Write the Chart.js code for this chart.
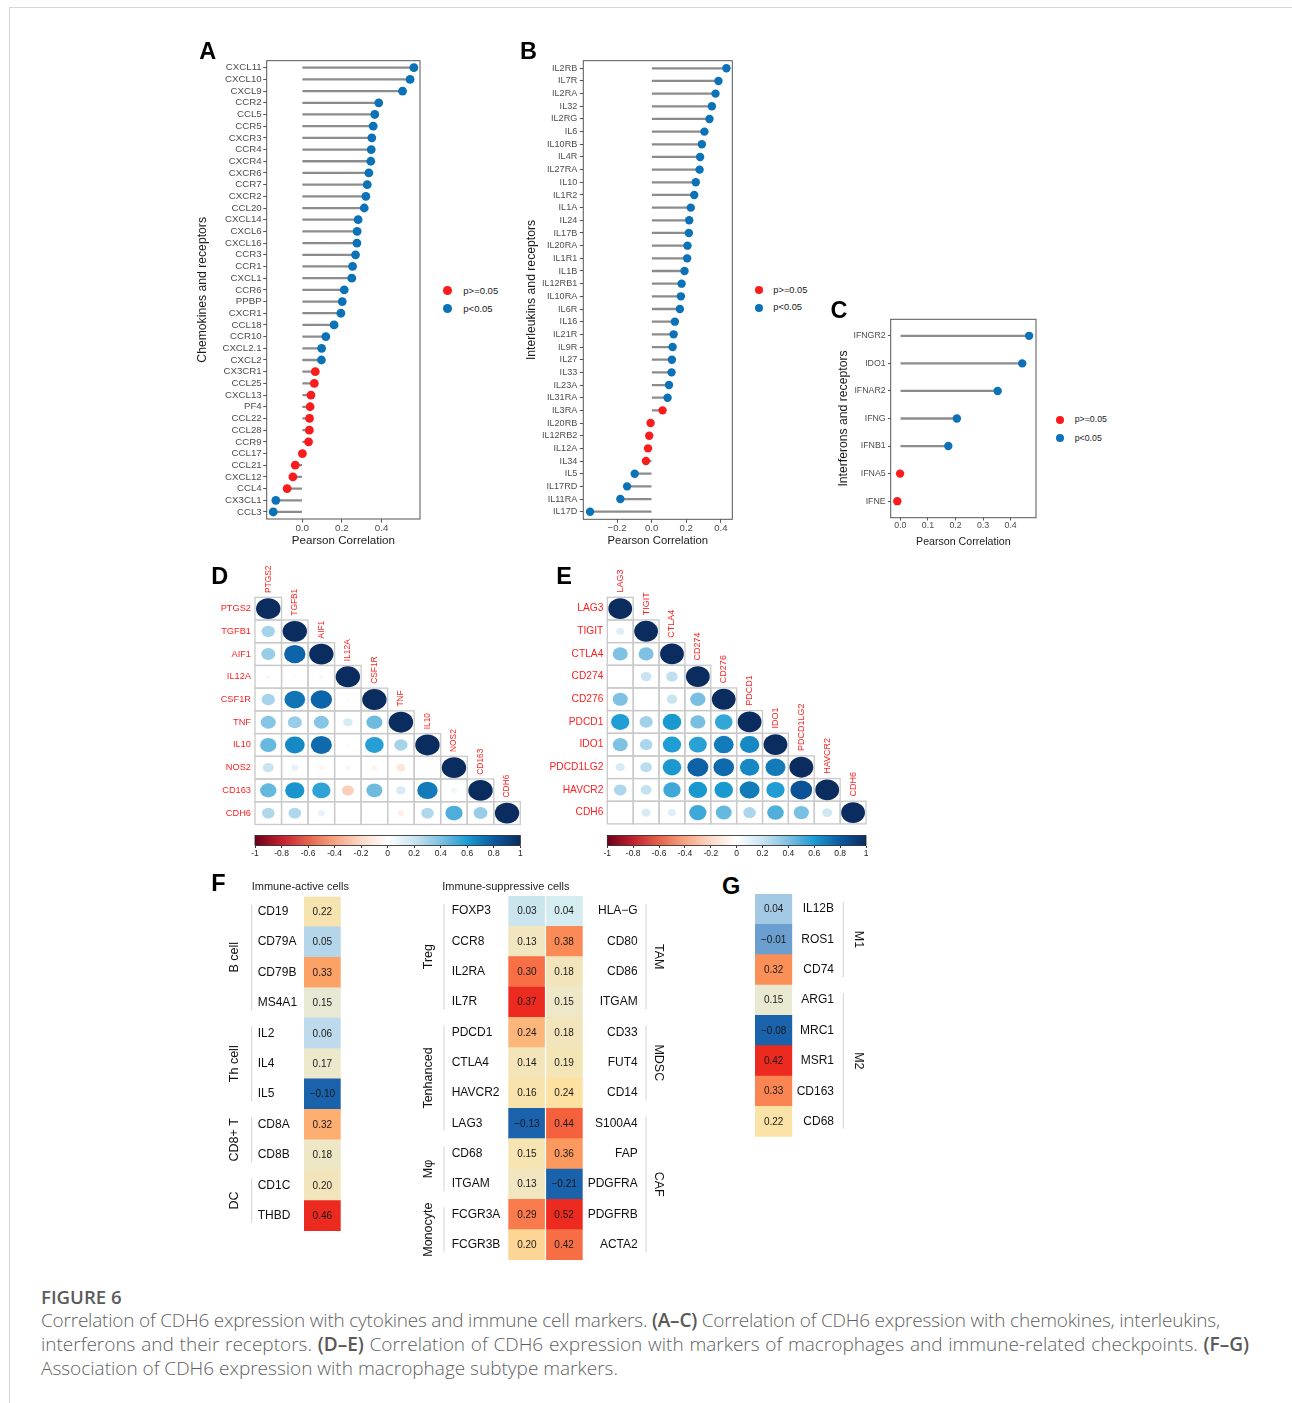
<!DOCTYPE html>
<html>
<head>
<meta charset="utf-8">
<script src="https://cdn.jsdelivr.net/npm/chart.js@4.4.0/dist/chart.umd.min.js"></script>
<style>
  body { margin: 0; background: #fff; width: 1292px; height: 1403px; position: relative; overflow: hidden;
         font-family: "Liberation Sans", Arial, Helvetica, sans-serif; }
  .frame { position: absolute; left: 9px; top: 7px; right: -2px; bottom: -2px;
           border-left: 1px solid #d6d6d6; border-top: 1px solid #d6d6d6; }
  .cap { position: absolute; font-family: "Open Sans", "Noto Sans", sans-serif; font-weight: 300; color: #5f5f5f; white-space: nowrap; }
  .cap b { font-weight: 600; color: #595959; }
</style>
</head>
<body>
<div class="frame"></div>

<script>
// ---------------- data ----------------

// A: chemokines and receptors
const chemoGenes = ["CXCL11","CXCL10","CXCL9","CCR2","CCL5","CCR5","CXCR3","CCR4","CXCR4","CXCR6",
  "CCR7","CXCR2","CCL20","CXCL14","CXCL6","CXCL16","CCR3","CCR1","CXCL1","CCR6","PPBP","CXCR1",
  "CCL18","CCR10","CXCL2.1","CXCL2","CX3CR1","CCL25","CXCL13","PF4","CCL22","CCL28","CCR9",
  "CCL17","CCL21","CXCL12","CCL4","CX3CL1","CCL3"];
const chemoCor = [0.563,0.544,0.506,0.386,0.366,0.358,0.351,0.348,0.346,0.336,
  0.328,0.321,0.313,0.282,0.277,0.276,0.269,0.254,0.250,0.212,0.202,0.195,
  0.161,0.119,0.098,0.097,0.066,0.061,0.044,0.040,0.037,0.036,0.032,
  0.001,-0.035,-0.047,-0.076,-0.133,-0.146];
const chemoSig = [1,1,1,1,1,1,1,1,1,1, 1,1,1,1,1,1,1,1,1,1,1,1, 1,1,1,1,0,0,0,0,0,0,0, 0,0,0,0,1,1];

// B: interleukins and receptors
const ilGenes = ["IL2RB","IL7R","IL2RA","IL32","IL2RG","IL6","IL10RB","IL4R","IL27RA","IL10",
  "IL1R2","IL1A","IL24","IL17B","IL20RA","IL1R1","IL1B","IL12RB1","IL10RA","IL6R","IL16",
  "IL21R","IL9R","IL27","IL33","IL23A","IL31RA","IL3RA","IL20RB","IL12RB2","IL12A","IL34",
  "IL5","IL17RD","IL11RA","IL17D"];
const ilCor = [0.432,0.386,0.369,0.348,0.334,0.305,0.290,0.280,0.277,0.255,
  0.246,0.226,0.217,0.215,0.207,0.205,0.190,0.173,0.169,0.163,0.134,
  0.127,0.121,0.117,0.115,0.100,0.092,0.063,-0.006,-0.014,-0.021,-0.033,
  -0.098,-0.142,-0.181,-0.356];
const ilSig = [1,1,1,1,1,1,1,1,1,1, 1,1,1,1,1,1,1,1,1,1,1, 1,1,1,1,1,1,0,0,0,0,0, 1,1,1,1];

// C: interferons and receptors
const ifnGenes = ["IFNGR2","IDO1","IFNAR2","IFNG","IFNB1","IFNA5","IFNE"];
const ifnCor = [0.467,0.442,0.353,0.205,0.174,-0.001,-0.011];
const ifnSig = [1,1,1,1,1,0,0];

const sigLabels = ["p>=0.05", "p<0.05"];
const ticksA = [0, 0.2, 0.4];
const ticksB = [-0.2, 0, 0.2, 0.4];
const ticksC = [0, 0.1, 0.2, 0.3, 0.4];

// D: macrophage markers (lower triangle, row by row)
const macGenes = ["PTGS2","TGFB1","AIF1","IL12A","CSF1R","TNF","IL10","NOS2","CD163","CDH6"];
const macCorr = [
  [1],
  [0.30, 1],
  [0.33, 0.77, 1],
  [-0.04, 0.02, 0.04, 1],
  [0.30, 0.72, 0.77, 0.03, 1],
  [0.38, 0.33, 0.38, 0.15, 0.43, 1],
  [0.45, 0.66, 0.75, -0.03, 0.58, 0.30, 1],
  [0.20, 0.09, -0.05, 0.05, -0.06, -0.13, 0.00, 1],
  [0.45, 0.62, 0.56, -0.24, 0.43, 0.15, 0.70, 0.06, 1],
  [0.27, 0.27, 0.09, 0.01, 0.00, -0.08, 0.27, 0.50, 0.33, 1]
];

// E: immune checkpoints
const ckGenes = ["LAG3","TIGIT","CTLA4","CD274","CD276","PDCD1","IDO1","PDCD1LG2","HAVCR2","CDH6"];
const ckCorr = [
  [1],
  [0.12, 1],
  [0.40, 0.40, 1],
  [0.01, 0.20, 0.23, 1],
  [0.40, 0.01, 0.20, 0.41, 1],
  [0.59, 0.31, 0.61, 0.41, 0.55, 1],
  [0.40, 0.28, 0.59, 0.57, 0.70, 0.66, 1],
  [0.15, 0.24, 0.61, 0.78, 0.75, 0.66, 0.70, 1],
  [0.28, 0.21, 0.53, 0.61, 0.61, 0.70, 0.59, 0.83, 1],
  [-0.01, 0.15, 0.12, 0.53, 0.45, 0.28, 0.49, 0.41, 0.18, 1]
];
const corrBarTicks = [-1, -0.8, -0.6, -0.4, -0.2, 0, 0.2, 0.4, 0.6, 0.8, 1];

// F: immune-active cells
const activeGenes = ["CD19","CD79A","CD79B","MS4A1","IL2","IL4","IL5","CD8A","CD8B","CD1C","THBD"];
const activeVals = [0.22, 0.05, 0.33, 0.15, 0.06, 0.17, -0.10, 0.32, 0.18, 0.20, 0.46];
const activeGroups = ["B cell", "Th cell", "CD8+ T", "DC"];
const activeSizes = [4, 3, 2, 2];

// F: immune-suppressive cells
const suppGenesL = ["FOXP3","CCR8","IL2RA","IL7R","PDCD1","CTLA4","HAVCR2","LAG3","CD68","ITGAM","FCGR3A","FCGR3B"];
const suppValsL = [0.03, 0.13, 0.30, 0.37, 0.24, 0.14, 0.16, -0.13, 0.15, 0.13, 0.29, 0.20];
const suppGroupsL = ["Treg", "Tenhanced", "Mφ", "Monocyte"];
const suppSizesL = [4, 4, 2, 2];
const suppGenesR = ["HLA−G","CD80","CD86","ITGAM","CD33","FUT4","CD14","S100A4","FAP","PDGFRA","PDGFRB","ACTA2"];
const suppValsR = [0.04, 0.38, 0.18, 0.15, 0.18, 0.19, 0.24, 0.44, 0.36, -0.21, 0.52, 0.42];
const suppGroupsR = ["TAM", "MDSC", "CAF"];
const suppSizesR = [4, 3, 5];

// G: macrophage subtypes
const mGenes = ["IL12B","ROS1","CD74","ARG1","MRC1","MSR1","CD163","CD68"];
const mVals = [0.04, -0.01, 0.32, 0.15, -0.08, 0.42, 0.33, 0.22];
const mGroups = ["M1", "M2"];
const mSizes = [3, 5];

// ---------------- helpers ----------------
const RED = "#f81c1c", BLUE = "#0b72b8", LBL_RED = "#ff2020";
const FONT = '"Liberation Sans", Arial, Helvetica, sans-serif';
Chart.defaults.font.family = FONT;
Chart.defaults.animation = false;
Chart.defaults.events = [];
Chart.defaults.plugins.legend.display = false;
Chart.defaults.plugins.tooltip.enabled = false;

function makeCanvas(l, t, w, h) {
  const c = document.createElement("canvas");
  c.width = w; c.height = h;
  c.style.cssText = `position:absolute;left:${l}px;top:${t}px;width:${w}px;height:${h}px`;
  document.body.appendChild(c);
  return c;
}

// text by baseline (k = ascent offset for line-height = font size)
function txt(x, base, s, size, css, k) {
  const d = document.createElement("div");
  k = k || 0.8465;
  d.style.cssText = `position:absolute;left:${x}px;top:${base - k * size}px;font-size:${size}px;` +
    `line-height:${size}px;white-space:nowrap;` + (css || "");
  d.textContent = s;
  document.body.appendChild(d);
  return d;
}

function dot(cx, cy, col, r) {
  const d = document.createElement("div");
  d.style.cssText = `position:absolute;left:${cx - r}px;top:${cy - r}px;width:${2 * r}px;height:${2 * r}px;` +
    `border-radius:50%;background:${col}`;
  document.body.appendChild(d);
}

function mix(stops, t) {
  t = Math.max(stops[0][0], Math.min(stops[stops.length - 1][0], t));
  for (let i = 1; i < stops.length; i++) {
    if (t <= stops[i][0]) {
      const [t0, c0] = stops[i - 1], [t1, c1] = stops[i];
      const f = (t - t0) / (t1 - t0);
      const a = [1, 3, 5].map(k => parseInt(c0.substr(k, 2), 16));
      const b = [1, 3, 5].map(k => parseInt(c1.substr(k, 2), 16));
      return "rgb(" + a.map((v, k) => Math.round(v + (b[k] - v) * f)).join(",") + ")";
    }
  }
  return stops[stops.length - 1][1];
}

const corrStops = [[-1, "#6b0019"], [-0.8, "#c1202f"], [-0.6, "#e4624c"], [-0.4, "#f6a482"], [-0.2, "#fcd9c7"],
  [0, "#ffffff"], [0.2, "#c9e4f1"], [0.4, "#7ec1e2"], [0.6, "#1b9bd3"], [0.8, "#0b5aa0"], [1, "#0a2c5e"]];
const heatStops = [[0, "#1a62ab"], [0.14, "#6a9fcf"], [0.27, "#b6d6ea"], [0.35, "#d8eef2"], [0.45, "#e8e9d4"],
  [0.52, "#f1e6c0"], [0.62, "#fde19f"], [0.72, "#fdc486"], [0.78, "#fc995e"], [0.87, "#f76a43"], [1, "#ec2a1f"]];

function heatColors(vals) {
  const lo = Math.min(...vals), hi = Math.max(...vals);
  return vals.map(v => mix(heatStops, (v - lo) / (hi - lo)));
}
const minus = s => s.replace("-", "−");

// ---------------- lollipop panels (A, B, C) ----------------
const boxPlugin = {
  id: "box",
  afterDraw(chart) {
    const { ctx, chartArea: a } = chart;
    ctx.save();
    ctx.strokeStyle = "#555";
    ctx.lineWidth = 1;
    ctx.strokeRect(a.left, a.top, a.right - a.left, a.bottom - a.top);
    ctx.restore();
  }
};

function lollipop(c) {
  const axisL = c.yTitleX - 0.6 * c.yTitleSize;
  const axisB = c.xTitleY + 0.6 * c.xTitleSize;
  const L = Math.floor(axisL), T = Math.floor(c.box.t - 10);
  const R = Math.ceil(c.box.r + 10), B = Math.ceil(axisB) + 1;
  const cv = makeCanvas(L, T, R - L, B - T);
  const n = c.labels.length;
  new Chart(cv, {
    type: "bar",
    data: {
      datasets: [
        { type: "bar", indexAxis: "y", order: 2,
          data: c.values.map((v, i) => ({ x: [0, v], y: i })),
          backgroundColor: "#8c8c8c", barThickness: 1.6, borderWidth: 0 },
        { type: "scatter", order: 1, clip: false,
          data: c.values.map((v, i) => ({ x: v, y: i })),
          pointRadius: c.dot, pointBorderWidth: 0,
          pointBackgroundColor: c.sig.map(s => s ? BLUE : RED) }
      ]
    },
    options: {
      responsive: false,
      layout: { padding: { left: axisL - L, top: c.box.t - T, right: R - c.box.r, bottom: B - axisB } },
      scales: {
        x: {
          type: "linear", min: c.xMin, max: c.xMax, bounds: "data", offset: false, beginAtZero: false,
          afterBuildTicks: s => { s.ticks = c.xTicks.map(v => ({ value: v })); },
          afterFit: s => { s.height = axisB - c.box.b; },
          grid: { display: true, offset: false, drawOnChartArea: false, drawTicks: true, tickLength: c.tickLen, color: "#555" },
          border: { display: false },
          ticks: { font: { size: c.xTickSize }, color: "#4d4d4d", maxRotation: 0, autoSkip: false,
                   padding: c.xTickCY - c.box.b - c.tickLen - 0.6 * c.xTickSize,
                   callback: v => minus(v.toFixed(1)) },
          title: { display: true, text: "Pearson Correlation", color: "#1a1a1a", padding: 0,
                   font: { size: c.xTitleSize } }
        },
        y: {
          type: "linear", reverse: true, min: -0.6, max: n - 0.4, bounds: "data", offset: false, beginAtZero: false,
          afterBuildTicks: s => { s.ticks = c.labels.map((_, i) => ({ value: i })); },
          afterFit: s => { s.width = c.box.l - axisL; },
          grid: { display: true, offset: false, drawOnChartArea: false, drawTicks: true, tickLength: c.tickLen, color: "#555" },
          border: { display: false },
          ticks: { font: { size: c.yTickSize }, color: "#4d4d4d", autoSkip: false,
                   padding: c.box.l - c.labelRight - c.tickLen,
                   callback: v => c.labels[v] },
          title: { display: true, text: c.yTitle, color: "#1a1a1a", padding: 0, font: { size: c.yTitleSize } }
        }
      }
    },
    plugins: [boxPlugin]
  });
  // legend
  const ls = c.legSize;
  dot(c.leg.x, c.leg.y1, RED, c.dot);
  dot(c.leg.x, c.leg.y2, BLUE, c.dot);
  txt(c.leg.tx, c.leg.y1 + 0.36 * ls, sigLabels[0], ls, "color:#1a1a1a");
  txt(c.leg.tx, c.leg.y2 + 0.36 * ls, sigLabels[1], ls, "color:#1a1a1a");
}

lollipop({
  labels: chemoGenes, values: chemoCor, sig: chemoSig, yTitle: "Chemokines and receptors",
  box: { l: 266.7, t: 60.7, r: 420, b: 519 }, yTitleX: 202.3, yTitleSize: 12.2,
  xTitleY: 540.7, xTitleSize: 11.6, yTickSize: 9.7, xTickSize: 9.8, labelRight: 261.7, tickLen: 3.5,
  xTickCY: 528.7, xMin: -0.179, xMax: 0.594, xTicks: ticksA, dot: 4.4,
  leg: { x: 447.7, y1: 290.3, y2: 308.3, tx: 463.3 }, legSize: 9.5
});
lollipop({
  labels: ilGenes, values: ilCor, sig: ilSig, yTitle: "Interleukins and receptors",
  box: { l: 583.3, t: 60.7, r: 732.3, b: 519.3 }, yTitleX: 532, yTitleSize: 12.2,
  xTitleY: 540.7, xTitleSize: 11.3, yTickSize: 9.1, xTickSize: 9.6, labelRight: 577.3, tickLen: 3.5,
  xTickCY: 528.7, xMin: -0.395, xMax: 0.466, xTicks: ticksB, dot: 4.2,
  leg: { x: 758.7, y1: 290.3, y2: 307.7, tx: 773.3 }, legSize: 9.3
});
lollipop({
  labels: ifnGenes, values: ifnCor, sig: ifnSig, yTitle: "Interferons and receptors",
  box: { l: 890.7, t: 319.3, r: 1036, b: 517.7 }, yTitleX: 843.3, yTitleSize: 12.2,
  xTitleY: 541.7, xTitleSize: 10.65, yTickSize: 8.8, xTickSize: 8.8, labelRight: 885.7, tickLen: 2.8,
  xTickCY: 525.5, xMin: -0.035, xMax: 0.492, xTicks: ticksC, dot: 4.2,
  leg: { x: 1060, y1: 419.7, y2: 438.3, tx: 1074.7 }, legSize: 8.8
});

// ---------------- correlation matrices (D, E) ----------------
const corrPlugin = {
  id: "corr",
  beforeDatasetsDraw(chart, args, o) {
    const { ctx } = chart, xs = chart.scales.x, ys = chart.scales.y;
    const w = xs.getPixelForValue(1.5) - xs.getPixelForValue(0.5);
    const h = ys.getPixelForValue(1.5) - ys.getPixelForValue(0.5);
    ctx.save();
    ctx.strokeStyle = "#c9c9c9"; ctx.lineWidth = 1.3;
    o.corr.forEach((row, i) => row.forEach((v, j) => {
      ctx.strokeRect(xs.getPixelForValue(j + 0.5), ys.getPixelForValue(i + 0.5), w, h);
    }));
    ctx.restore();
  },
  afterDatasetsDraw(chart, args, o) {
    const { ctx } = chart, xs = chart.scales.x, ys = chart.scales.y;
    const w = xs.getPixelForValue(1.5) - xs.getPixelForValue(0.5);
    const h = ys.getPixelForValue(1.5) - ys.getPixelForValue(0.5);
    const meta = chart.getDatasetMeta(0), raw = chart.data.datasets[0].data;
    ctx.save();
    meta.data.forEach((el, k) => {
      const v = raw[k].v, s = 0.46 * Math.sqrt(Math.abs(v));
      if (s <= 0) return;
      ctx.fillStyle = mix(corrStops, v);
      ctx.beginPath();
      ctx.ellipse(el.x, el.y, s * w, s * h, 0, 0, 2 * Math.PI);
      ctx.fill();
    });
    // column labels along the diagonal
    ctx.fillStyle = LBL_RED;
    ctx.font = `${o.colSize}px ${FONT}`;
    ctx.textAlign = "left"; ctx.textBaseline = "middle";
    o.genes.forEach((g, j) => {
      ctx.save();
      ctx.translate(xs.getPixelForValue(j + 1), ys.getPixelForValue(j + 0.5) - o.colGap);
      ctx.rotate(-Math.PI / 2);
      ctx.fillText(g, 0, 0);
      ctx.restore();
    });
    ctx.restore();
  }
};

const barPlugin = {
  id: "cbar",
  beforeDatasetsDraw(chart) {
    const { ctx, chartArea: a } = chart, xs = chart.scales.x;
    const g = ctx.createLinearGradient(a.left, 0, a.right, 0);
    corrStops.forEach(([v, col]) => g.addColorStop((xs.getPixelForValue(v) - a.left) / (a.right - a.left), col));
    ctx.save();
    ctx.fillStyle = g;
    ctx.fillRect(a.left, a.top, a.right - a.left, a.bottom - a.top);
    ctx.strokeStyle = "#222"; ctx.lineWidth = 0.8;
    ctx.strokeRect(a.left, a.top, a.right - a.left, a.bottom - a.top);
    ctx.restore();
  }
};

function corrplot(c) {
  const n = c.genes.length;
  const g = c.grid;
  const cv = makeCanvas(c.L, c.T, c.R - c.L, c.B - c.T);
  const pts = [];
  c.corr.forEach((row, i) => row.forEach((v, j) => pts.push({ x: j + 1, y: i + 1, v })));
  new Chart(cv, {
    type: "scatter",
    data: { datasets: [{ data: pts, pointRadius: 0 }] },
    options: {
      responsive: false,
      layout: { padding: { left: 0, top: g.t - c.T, right: c.R - g.r, bottom: c.B - g.b } },
      scales: {
        x: { type: "linear", min: 0.5, max: n + 0.5, display: false },
        y: {
          type: "linear", min: 0.5, max: n + 0.5, reverse: true, bounds: "data",
          afterBuildTicks: s => { s.ticks = c.genes.map((_, i) => ({ value: i + 1 })); },
          afterFit: s => { s.width = g.l - c.L; },
          grid: { display: false, drawTicks: false }, border: { display: false },
          ticks: { autoSkip: false, color: LBL_RED, font: { size: c.rowSize }, padding: g.l - c.labelRight,
                   callback: v => c.genes[v - 1] }
        }
      },
      plugins: { corr: { corr: c.corr, genes: c.genes, colSize: c.colSize, colGap: c.colGap } }
    },
    plugins: [corrPlugin]
  });

  // colour bar
  const b = c.bar;
  const BL = Math.floor(b.l - 12), BR = Math.ceil(b.r + 12), BT = Math.floor(b.t - 1), BB = Math.ceil(b.lab + 8);
  const cb = makeCanvas(BL, BT, BR - BL, BB - BT);
  const tl = 2.5, fs = 8.5;
  new Chart(cb, {
    type: "scatter",
    data: { datasets: [{ data: [] }] },
    options: {
      responsive: false,
      layout: { padding: { left: b.l - BL, right: BR - b.r, top: b.t - BT, bottom: 0 } },
      scales: {
        x: {
          type: "linear", min: -1, max: 1, bounds: "data",
          afterBuildTicks: s => { s.ticks = corrBarTicks.map(v => ({ value: v })); },
          afterFit: s => { s.height = BB - b.b; },
          grid: { display: true, drawOnChartArea: false, tickLength: tl, color: "#333" },
          border: { display: false },
          ticks: { autoSkip: false, maxRotation: 0, minRotation: 0, color: "#222", font: { size: fs },
                   padding: b.lab - b.b - tl - 0.6 * fs, callback: v => String(+v.toFixed(1)) }
        },
        y: { display: false, min: 0, max: 1 }
      }
    },
    plugins: [barPlugin]
  });
}

corrplot({
  genes: macGenes, corr: macCorr, grid: { l: 255, r: 520.3, t: 597.3, b: 831.7 },
  L: 205, T: 556, R: 527, B: 834, labelRight: 251, rowSize: 9.25, colSize: 8.4, colGap: 4.3,
  bar: { l: 255, r: 520.3, t: 835.5, b: 845.5, lab: 853.5 }
});
corrplot({
  genes: ckGenes, corr: ckCorr, grid: { l: 607.3, r: 866, t: 597.3, b: 831.7 },
  L: 540, T: 556, R: 873, B: 834, labelRight: 603.3, rowSize: 10.2, colSize: 9, colGap: 4.8,
  bar: { l: 607.3, r: 866, t: 835.5, b: 845.5, lab: 853.5 }
});

// ---------------- heatmaps (F, G) ----------------
const cellTextPlugin = {
  id: "cellText",
  afterDatasetsDraw(chart) {
    const { ctx } = chart;
    ctx.save();
    ctx.font = `10px ${FONT}`;
    ctx.fillStyle = "#1a1a1a"; ctx.textAlign = "center"; ctx.textBaseline = "middle";
    chart.data.datasets.forEach((ds, k) => {
      chart.getDatasetMeta(k).data.forEach((el, i) => {
        const v = ds.vals[i];
        const s = (v < 0 ? "−" : "") + Math.abs(v).toFixed(2);
        ctx.fillText(s, (el.x + el.base) / 2, el.y + 0.5);
      });
    });
    ctx.restore();
  }
};

const groupPlugin = {
  id: "groups",
  afterDraw(chart, args, o) {
    const { ctx } = chart;
    (o.sets || []).forEach(g => {
      const ys = chart.scales[g.axis];
      const step = ys.getPixelForValue(1) - ys.getPixelForValue(0);
      let start = 0;
      g.names.forEach((name, k) => {
        const end = start + g.sizes[k] - 1;
        const y0 = ys.getPixelForValue(start) - step / 2, y1 = ys.getPixelForValue(end) + step / 2;
        const lx = g.lineX - o.off, tx = g.labelX - o.off;
        ctx.save();
        ctx.strokeStyle = "#d2d2d2"; ctx.lineWidth = 1;
        ctx.beginPath(); ctx.moveTo(lx, y0 + 8); ctx.lineTo(lx, y1 - 8); ctx.stroke();
        ctx.translate(tx, (y0 + y1) / 2);
        ctx.rotate(g.side === "left" ? -Math.PI / 2 : Math.PI / 2);
        ctx.font = `12.5px ${FONT}`;
        ctx.fillStyle = "#111"; ctx.textAlign = "center"; ctx.textBaseline = "middle";
        ctx.fillText(name, 0, 0);
        ctx.restore();
        start = end + 1;
      });
    });
  }
};

function heatmap(c) {
  const cell = c.cell;
  const cv = makeCanvas(c.L, c.T, c.R - c.L, c.B - c.T);
  const ncol = c.cols.length;
  const scales = { x: { type: "linear", min: 0, max: ncol, display: false } };
  let padL = cell.l - c.L, padR = c.R - cell.r;
  c.cols.forEach((col, k) => {
    const id = k ? "y2" : "y";
    scales[id] = {
      type: "category", labels: col.genes, position: col.side, offset: true,
      grid: { display: false, drawTicks: false }, border: { display: false },
      ticks: { crossAlign: "far", padding: 0, autoSkip: false, color: "#111", font: { size: 12 } },
      afterFit: s => { s.width = col.side === "left" ? cell.l - col.labelX : col.labelX - cell.r; }
    };
    if (col.side === "left") padL = col.labelX - c.L; else padR = c.R - col.labelX;
  });
  new Chart(cv, {
    type: "bar",
    data: {
      datasets: c.cols.map((col, k) => ({
        yAxisID: k ? "y2" : "y", vals: col.vals,
        data: col.vals.map(() => [k, k + 1]),
        backgroundColor: heatColors(col.vals),
        borderWidth: 0, barPercentage: 1, categoryPercentage: 1, grouped: false
      }))
    },
    options: {
      responsive: false, indexAxis: "y",
      layout: { padding: { left: padL, right: padR, top: cell.t - c.T, bottom: c.B - cell.b } },
      scales,
      plugins: { groups: { off: c.L, sets: c.groups } }
    },
    plugins: [cellTextPlugin, groupPlugin, {
      id: "sep",
      afterDatasetsDraw(chart) {
        if (ncol < 2) return;
        const { ctx, chartArea: a } = chart, x = chart.scales.x.getPixelForValue(1);
        ctx.save(); ctx.strokeStyle = "#fff"; ctx.lineWidth = 1.2;
        ctx.beginPath(); ctx.moveTo(x, a.top); ctx.lineTo(x, a.bottom); ctx.stroke(); ctx.restore();
      }
    }]
  });
}

heatmap({
  cell: { l: 304, r: 340.7, t: 896.5, b: 1231 }, L: 220, T: 888, R: 348, B: 1240,
  cols: [{ genes: activeGenes, vals: activeVals, side: "left", labelX: 257.7 }],
  groups: [{ axis: "y", side: "left", names: activeGroups, sizes: activeSizes, lineX: 251.7, labelX: 235 }]
});
heatmap({
  cell: { l: 508.3, r: 582.7, t: 896, b: 1260 }, L: 413, T: 888, R: 674, B: 1268,
  cols: [{ genes: suppGenesL, vals: suppValsL, side: "left", labelX: 451.7 },
         { genes: suppGenesR, vals: suppValsR, side: "right", labelX: 637.7 }],
  groups: [{ axis: "y", side: "left", names: suppGroupsL, sizes: suppSizesL, lineX: 444, labelX: 429 },
           { axis: "y2", side: "right", names: suppGroupsR, sizes: suppSizesR, lineX: 646, labelX: 658.3 }]
});
heatmap({
  cell: { l: 755, r: 792.3, t: 894, b: 1136.7 }, L: 748, T: 886, R: 874, B: 1145,
  cols: [{ genes: mGenes, vals: mVals, side: "right", labelX: 834 }],
  groups: [{ axis: "y", side: "right", names: mGroups, sizes: mSizes, lineX: 843.3, labelX: 858.5 }]
});

// ---------------- panel letters, titles, caption ----------------
const letterCss = "font-weight:bold;color:#000";
txt(199.3, 60, "A", 23.5, letterCss);
txt(520, 60, "B", 23.5, letterCss);
txt(830.5, 319.3, "C", 23.5, letterCss);
txt(211.3, 585, "D", 23.5, letterCss);
txt(556.3, 585, "E", 23.5, letterCss);
txt(211.3, 892, "F", 23.5, letterCss);
txt(722, 895, "G", 23.5, letterCss);

txt(251.7, 890, "Immune-active cells", 11, "color:#222");
txt(442.3, 890, "Immune-suppressive cells", 11, "color:#222");

const OS = 0.888;
const capCss = "font-family:'Open Sans','Noto Sans',sans-serif";
txt(41, 1304.5, "FIGURE 6", 18.6, "font-family:'Open Sans','Noto Sans',sans-serif;font-weight:600;color:#5b5b5b", OS);
const cap1 = txt(41, 1328, "", 19, capCss, OS);
cap1.innerHTML = "Correlation of CDH6 expression with cytokines and immune cell markers. <b>(A–C)</b> Correlation of CDH6 expression with chemokines, interleukins,";
const cap2 = txt(41, 1352, "", 19, capCss, OS);
cap2.innerHTML = "interferons and their receptors. <b>(D–E)</b> Correlation of CDH6 expression with markers of macrophages and immune-related checkpoints. <b>(F–G)</b>";
const cap3 = txt(41, 1376, "", 19, capCss, OS);
cap3.innerHTML = "Association of CDH6 expression with macrophage subtype markers.";
[cap1, cap2, cap3].forEach(e => { e.className = "cap"; });

function fitLine(el, target, prop) {
  el.style.display = "inline-block";
  const w = el.getBoundingClientRect().width;
  const t = el.textContent;
  const n = prop === "wordSpacing" ? t.split(" ").length - 1 : t.length - 1;
  el.style[prop] = ((target - w) / n) + "px";
}
document.fonts.ready.then(() => {
  fitLine(cap1, 1179, "letterSpacing");
  fitLine(cap2, 1208, "wordSpacing");
});
</script>
</body>
</html>
